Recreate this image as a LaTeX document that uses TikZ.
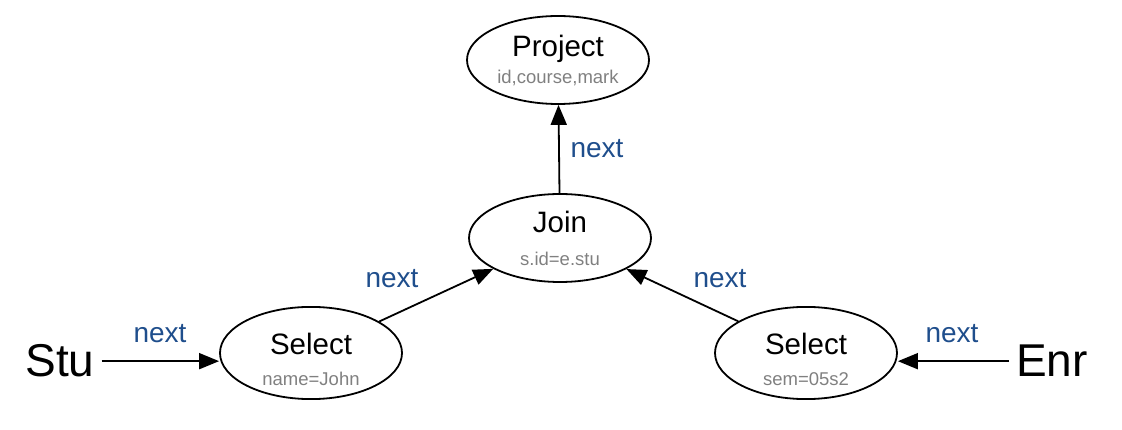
\documentclass[tikz,border=0pt]{standalone}
\usepackage{fontspec}
\setmainfont{Liberation Sans}
\usetikzlibrary{shapes.geometric,arrows.meta}
\definecolor{nextblue}{RGB}{31,78,140}
\definecolor{subgrey}{RGB}{128,128,128}
\tikzset{
  opnode/.style={draw=black, line width=1.8pt, ellipse, minimum width=182pt, minimum height=88pt, inner sep=0pt, align=center, font=\fontsize{29.5}{31}\selectfont},
  relnode/.style={inner sep=1pt, font=\fontsize{46}{50}\selectfont},
  nextlbl/.style={text=nextblue, inner sep=0pt, anchor=base, font=\fontsize{28}{30}\selectfont},
  flow/.style={line width=1.8pt, -{Triangle[length=20pt,width=16pt]}}
}
\newcommand{\subtxt}[2][-4pt]{\\[#1]{\fontsize{18.5}{19}\selectfont\color{subgrey}#2}}
\begin{document}
\begin{tikzpicture}[x=1pt,y=-1pt]
\useasboundingbox (0,0) rectangle (1122,430);
\node[opnode] (proj) at (558,60) {Project\subtxt{id,course,mark}};
\node[opnode] (join) at (560,238) {\rule{0pt}{22pt}Join\subtxt[2pt]{s.id=e.stu}};
\node[opnode] (sell) at (311,353) {\rule{0pt}{34pt}Select\subtxt[0pt]{name=John}};
\node[opnode] (selr) at (806,353) {\rule{0pt}{34pt}Select\subtxt[0pt]{sem=05s2}};
\node[relnode, anchor=base] (stu) at (60,377) {Stu};
\node[relnode, anchor=base] (enr) at (1052,377) {Enr};
\draw[flow] ([xshift=6pt]stu.east) -- (sell.west |- stu.east);
\draw[flow] ([xshift=-6pt]enr.west) -- (selr.east |- enr.west);
\draw[flow] (sell) -- (join);
\draw[flow] (selr) -- (join);
\draw[flow] (join) -- (proj);
\node[nextlbl] (n1) at (160,342) {next};
\node[nextlbl] (n2) at (952,342) {next};
\node[nextlbl] (n3) at (392,288) {next};
\node[nextlbl] (n4) at (720,288) {next};
\node[nextlbl] (n5) at (597,158) {next};
\end{tikzpicture}
\end{document}
